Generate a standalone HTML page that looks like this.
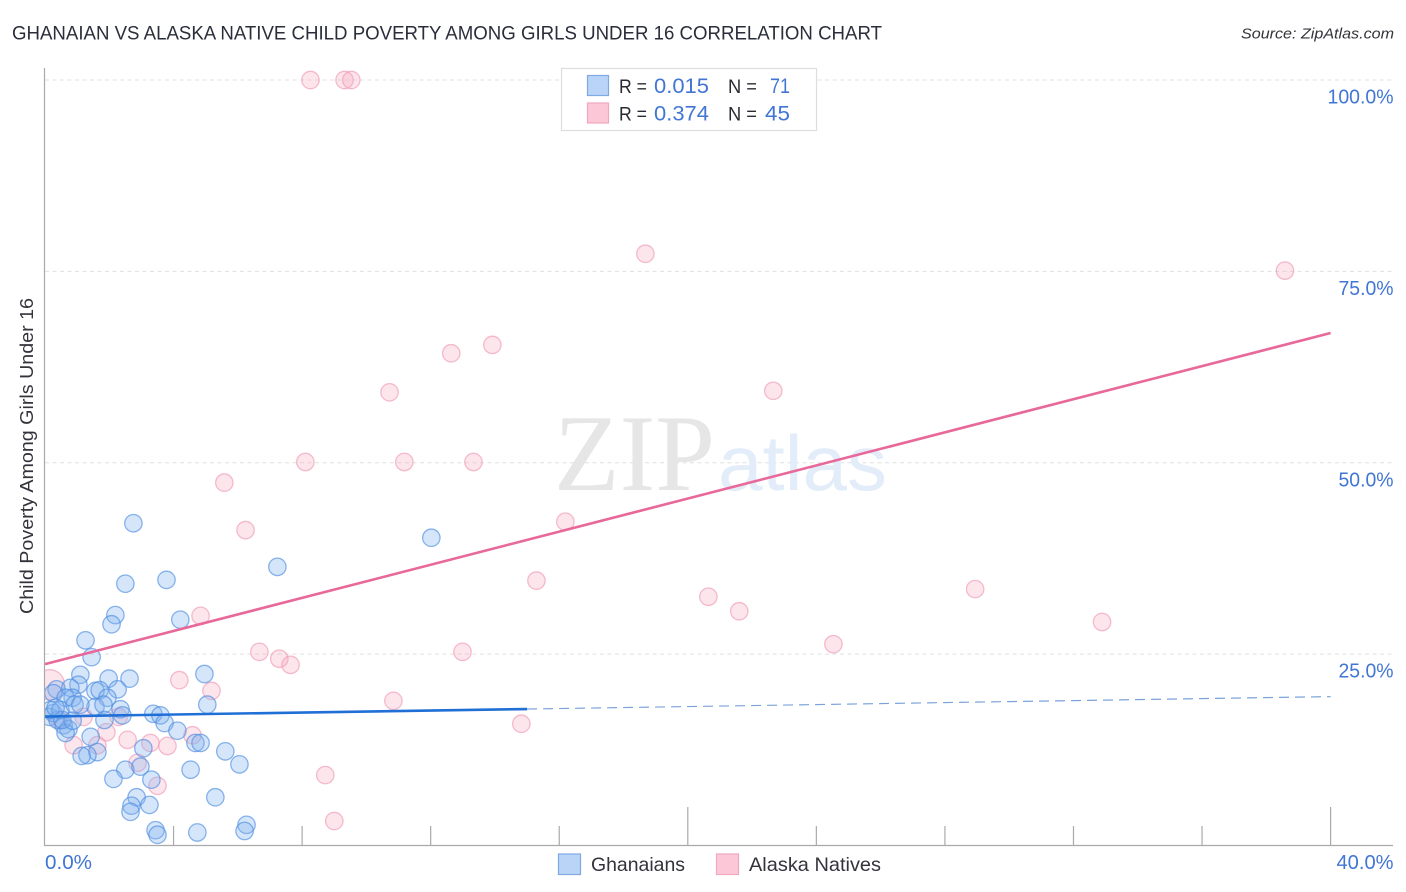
<!DOCTYPE html>
<html lang="en">
<head>
<meta charset="utf-8">
<title>Ghanaian vs Alaska Native Child Poverty Among Girls Under 16 Correlation Chart</title>
<style>
html,body{margin:0;padding:0;background:#fff;width:1406px;height:892px;overflow:hidden}
svg{display:block;font-family:"Liberation Sans",sans-serif}
</style>
</head>
<body>
<svg id="chart" xmlns="http://www.w3.org/2000/svg" width="1406" height="892" viewBox="0 0 1406 892">
  <defs><clipPath id="plot-clip"><rect x="45" y="60" width="1348" height="785"/></clipPath></defs>
  <rect x="0" y="0" width="1406" height="892" fill="#ffffff"/>
  <text x="12" y="39.5" font-size="19" fill="#2a2e3a" textLength="870" lengthAdjust="spacingAndGlyphs">GHANAIAN VS ALASKA NATIVE CHILD POVERTY AMONG GIRLS UNDER 16 CORRELATION CHART</text>
  <text x="1241" y="38.5" font-size="15" font-style="italic" fill="#33333b" textLength="153" lengthAdjust="spacingAndGlyphs">Source: ZipAtlas.com</text>
  <g id="grid"></g>
  <text x="554" y="490" font-family="'Liberation Serif',serif" font-size="109" fill="#e6e6e6" textLength="161" lengthAdjust="spacingAndGlyphs">ZIP</text>
  <text x="718" y="490" font-size="78" fill="#e3ecf9" textLength="169" lengthAdjust="spacingAndGlyphs">atlas</text>
  <g id="pink-points" clip-path="url(#plot-clip)"></g>
  <g id="blue-points" clip-path="url(#plot-clip)"></g>
  <g id="trends"></g>
  <g id="axes">
    <line x1="44.5" y1="68" x2="44.5" y2="846" stroke="#aaaaaa" stroke-width="1.2"/>
    <line x1="44" y1="845.5" x2="1393" y2="845.5" stroke="#aaaaaa" stroke-width="1.2"/>
  </g>
  <g id="tick-labels"></g>
  <text transform="translate(33,614) rotate(-90)" font-size="18" fill="#33333b" textLength="316" lengthAdjust="spacingAndGlyphs">Child Poverty Among Girls Under 16</text>

  <g>
    <rect x="561.5" y="68.5" width="255" height="62" fill="#ffffff" fill-opacity="0.85" stroke="#dddddd" stroke-width="1.2"/>
    <rect x="587.5" y="75.5" width="21" height="20" fill="#b9d4f7" stroke="#7fa9e3" stroke-width="1.2"/>
    <rect x="587.5" y="103" width="21" height="20" fill="#fcc8d8" stroke="#f0a8bf" stroke-width="1.2"/>
    <text x="619" y="93" font-size="19" fill="#2a2a32" textLength="28" lengthAdjust="spacingAndGlyphs">R =</text>
    <text x="654" y="93" font-size="21" fill="#4176d4" textLength="55" lengthAdjust="spacingAndGlyphs">0.015</text>
    <text x="728" y="93" font-size="19" fill="#2a2a32" textLength="29" lengthAdjust="spacingAndGlyphs">N =</text>
    <text x="770" y="93" font-size="21" fill="#4176d4" textLength="20" lengthAdjust="spacingAndGlyphs">71</text>
    <text x="619" y="120.5" font-size="19" fill="#2a2a32" textLength="28" lengthAdjust="spacingAndGlyphs">R =</text>
    <text x="654" y="120.5" font-size="21" fill="#4176d4" textLength="55" lengthAdjust="spacingAndGlyphs">0.374</text>
    <text x="728" y="120.5" font-size="19" fill="#2a2a32" textLength="29" lengthAdjust="spacingAndGlyphs">N =</text>
    <text x="765" y="120.5" font-size="21" fill="#4176d4" textLength="25" lengthAdjust="spacingAndGlyphs">45</text>
  </g>

  <g>
    <rect x="558.5" y="854" width="22" height="20.5" fill="#b9d4f7" stroke="#7fa9e3" stroke-width="1.2"/>
    <text x="591" y="871" font-size="19.5" fill="#33333b" textLength="94" lengthAdjust="spacingAndGlyphs">Ghanaians</text>
    <rect x="716.5" y="854" width="22" height="20.5" fill="#fcc8d8" stroke="#f0a8bf" stroke-width="1.2"/>
    <text x="749" y="871" font-size="19.5" fill="#33333b" textLength="132" lengthAdjust="spacingAndGlyphs">Alaska Natives</text>
  </g>
</svg>
<script>
const ghanaianX = [2.75,7.23,12.02,2.50,3.78,2.19,2.07,4.21,1.26,1.45,1.10,4.96,1.98,2.63,2.26,5.05,1.04,0.36,0.79,0.26,1.57,1.70,1.94,0.86,0.64,2.35,2.41,1.57,1.82,1.85,3.37,3.59,3.72,4.12,4.68,4.84,5.61,6.05,3.06,1.42,1.63,1.32,1.14,2.50,2.97,2.13,3.31,4.53,5.30,2.85,2.69,2.66,3.25,3.44,3.50,4.74,6.27,6.21,0.14,0.26,0.39,0.58,0.73,0.64,0.17,0.48,0.92,1.10,0.54,0.33,0.86];
const ghanaianY = [42.1,36.4,40.2,34.2,34.7,30.1,28.9,29.5,26.8,24.6,22.3,22.4,21.8,21.8,20.4,18.4,21.0,20.4,20.6,19.9,20.2,20.3,19.3,19.3,19.3,17.8,17.0,18.1,18.4,16.4,17.2,17.0,16.0,15.0,13.4,13.4,12.3,10.6,12.7,14.2,12.2,11.8,11.7,9.9,10.3,8.7,8.6,9.9,6.3,6.3,5.2,4.4,5.3,2.0,1.4,1.7,2.7,1.9,16.8,17.3,16.4,15.7,15.2,14.7,17.7,17.7,18.4,18.4,16.4,18.0,16.3];
const alaskaX = [8.26,9.32,9.53,18.68,38.58,13.92,12.64,10.72,22.66,8.10,11.18,13.33,5.58,6.24,16.19,15.29,20.64,21.60,28.94,32.89,4.84,24.53,12.99,6.67,7.29,7.64,4.18,5.18,10.84,14.82,8.72,9.00,3.50,2.88,3.81,3.28,2.57,4.59,1.91,1.63,0.89,1.20,2.29,0.45,0.14];
const alaskaY = [100,100,100,77.3,75.1,65.4,64.3,59.2,59.4,50.1,50.1,50.1,47.4,41.2,42.3,34.6,32.5,30.6,33.5,29.2,30.0,26.3,25.3,25.3,24.4,23.6,21.6,20.2,18.9,15.9,9.2,3.2,7.8,10.8,13.0,13.4,13.8,14.4,14.8,13.1,13.1,16.8,16.8,16.4,21.0];
const alaskaWeights = [1,1,1,1,1,1,1,1,1,1,1,1,1,1,1,1,1,1,1,1,1,1,1,1,1,1,1,1,1,1,1,1,1,1,1,1,1,1,1,1,1,1,1,1,3];
const ghanaianTrend = [16.85,19.45];
const alaskaTrend = [23.7,66.95];
const trendDomainX = [0,40];
const ghanaianSolidEndX = 15;
const yTickValues = [25,50,75,100];
const yTickLabels = ["25.0%","50.0%","75.0%","100.0%"];
const xTickValues = [0,4,8,12,16,20,24,28,32,36,40];
const xMajorTicks = [0,20,40];
const xEndValues = [0,40];
const xEndLabels = ["0.0%","40.0%"];

const SVG_NS = "http://www.w3.org/2000/svg";
function xScale(v){ return 45 + v * 32.14; }
function yScale(v){ return 845.5 - v * 7.655; }
function mk(tag, parent, attrs){
  const el = document.createElementNS(SVG_NS, tag);
  for (const k in attrs) el.setAttribute(k, attrs[k]);
  document.getElementById(parent).appendChild(el);
  return el;
}
function lerp(a, t){ return a[0] + (a[1] - a[0]) * (t - trendDomainX[0]) / (trendDomainX[1] - trendDomainX[0]); }

yTickValues.forEach(function(v, i){
  const g = mk("line", "grid", {x1:45, x2:1393, y1:yScale(v), y2:yScale(v), stroke:"#e0e0e0", "stroke-width":1, "stroke-dasharray":"4 3.5"});
  
  
  const t = mk("text", "tick-labels", {x:1393.5, y:yScale(v) + 23.5, "text-anchor":"end", "font-size":20, fill:"#4176d4", textLength: yTickLabels[i].length === 6 ? 66 : 55, lengthAdjust:"spacingAndGlyphs"});
  t.textContent = yTickLabels[i];
  
  
});

xTickValues.forEach(function(v){
  if (v === 0) return;
  const major = xMajorTicks.indexOf(v) >= 0;
  const tick = mk("line", "axes", {x1:xScale(v), x2:xScale(v), y1:major ? 807 : 826, y2:845, stroke:"#aaaaaa", "stroke-width":1.2});
  
  
});

xEndValues.forEach(function(v, i){
  const first = i === 0;
  const t = mk("text", "tick-labels", {x:first ? 45 : 1393.5, y:869, "text-anchor":first ? "start" : "end", "font-size":20, fill:"#4176d4", textLength:first ? 47 : 57, lengthAdjust:"spacingAndGlyphs"});
  t.textContent = xEndLabels[i];
  
  
});

alaskaX.forEach(function(v, i){
  const c = mk("circle", "pink-points", {cx:xScale(v), cy:yScale(alaskaY[i]), r:8.7 * Math.sqrt(alaskaWeights[i]), fill:"#f9a8c0", "fill-opacity":0.3, stroke:"#ef9ab5", "stroke-opacity":0.65, "stroke-width":1.3});
  
  
});
ghanaianX.forEach(function(v, i){
  const c = mk("circle", "blue-points", {cx:xScale(v), cy:yScale(ghanaianY[i]), r:8.7, fill:"#7fb0f0", "fill-opacity":0.32, stroke:"#4f8ee0", "stroke-opacity":0.65, "stroke-width":1.3});
  
  
});

const pinkLine = mk("line", "trends", {x1:xScale(trendDomainX[0]), y1:yScale(alaskaTrend[0]), x2:xScale(trendDomainX[1]), y2:yScale(alaskaTrend[1]), stroke:"#e8689a", "stroke-width":2.6});


const blueSolid = mk("line", "trends", {x1:xScale(trendDomainX[0]), y1:yScale(ghanaianTrend[0]), x2:xScale(ghanaianSolidEndX), y2:yScale(lerp(ghanaianTrend, ghanaianSolidEndX)), stroke:"#1f6fd6", "stroke-width":2.6});


const blueDash = mk("line", "trends", {x1:xScale(ghanaianSolidEndX), y1:yScale(lerp(ghanaianTrend, ghanaianSolidEndX)), x2:xScale(trendDomainX[1]), y2:yScale(ghanaianTrend[1]), stroke:"#7aa3dc", "stroke-width":1.2, "stroke-dasharray":"10 6"});


</script>
</body>
</html>
